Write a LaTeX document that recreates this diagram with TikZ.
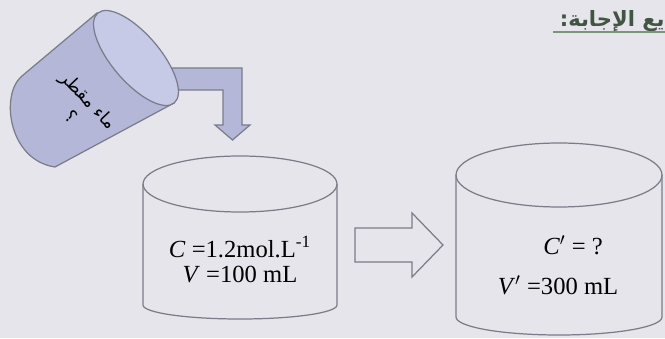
\documentclass[tikz,border=0pt]{standalone}
\usepackage{fontspec}
\setmainfont{Liberation Serif}
\newfontfamily\arabicfont[Script=Arabic]{DejaVu Sans}
\TeXXeTstate=1

\definecolor{paper}{RGB}{229,229,235}
\definecolor{rim}{RGB}{122,124,138}
\definecolor{lilac}{RGB}{180,183,215}
\definecolor{lilaclight}{RGB}{199,202,230}
\definecolor{inkgreen}{RGB}{66,84,66}
\definecolor{linegreen}{RGB}{120,150,120}

\begin{document}
\begin{tikzpicture}[x=0.02cm, y=0.02cm,
	beaker/.style={draw=rim, line width=0.7pt},
	bigarrow/.style={draw=rim, line width=0.7pt, line join=miter},
	label/.style={font=\fontsize{14}{16}\selectfont, inner sep=0pt}]
	% Fundo
	\fill[paper] (0,0) rectangle (665,338);
	\useasboundingbox (0,0) rectangle (665,338);
	
	% Titulo
	\node[anchor=base east, inner sep=0pt, text=inkgreen, font=\arabicfont\bfseries\fontsize{12}{14}\selectfont] (titulo) at (665,311) {\beginR يع الإجابة:\endR};
	\draw[linegreen, line width=0.8pt] (553,306) -- (665,306);
	
	% Seta em L
	\draw[bigarrow, fill=lilac] (160,270) -- (242,270) -- (242,213) -- (250,213) -- (232.5,198)
		-- (215,213) -- (223,213) -- (223,248) -- (160,248) -- cycle;
	
	% Recipiente inclinado
	\draw[beaker, fill=lilac] (97,325) -- (22,262) .. controls (0,244) and (8,178) .. (55,171) -- (174,235) -- cycle;
	\draw[beaker, fill=lilaclight] (136,280) ellipse[x radius=59, y radius=24, rotate=-49.5];
	\node[rotate=-46.5, inner sep=0pt, align=center, font=\arabicfont\fontsize{10}{14}\selectfont] (agua) at (80,230)
		{\beginR ماء مقطر\endR\\ \beginR ؟\endR};
	
	% Recipiente esquerdo
	\draw[beaker] (143,154) -- (143,33) arc[start angle=180, end angle=360, x radius=97, y radius=14] -- (337,154);
	\draw[beaker] (240,154) ellipse[x radius=97, y radius=28];
	\node[label] (c1) at (240,91) {\textit{C} =1.2mol.L\textsuperscript{-1}};
	\node[label] (v1) at (240,63) {\textit{V} =100 mL};
	
	% Seta do meio
	\draw[bigarrow] (355,110) -- (412,110) -- (412,125) -- (443,93) -- (412,61) -- (412,76) -- (355,76) -- cycle;
	
	% Recipiente direito
	\draw[beaker] (456,163) -- (456,21) arc[start angle=180, end angle=360, x radius=103, y radius=18] -- (662,163);
	\draw[beaker] (559,163) ellipse[x radius=103, y radius=32];
	\node[label] (c2) at (573,93) {\textit{C}$'$ = ?};
	\node[label] (v2) at (558,53) {\textit{V}$'$ =300 mL};
\end{tikzpicture}
\end{document}
